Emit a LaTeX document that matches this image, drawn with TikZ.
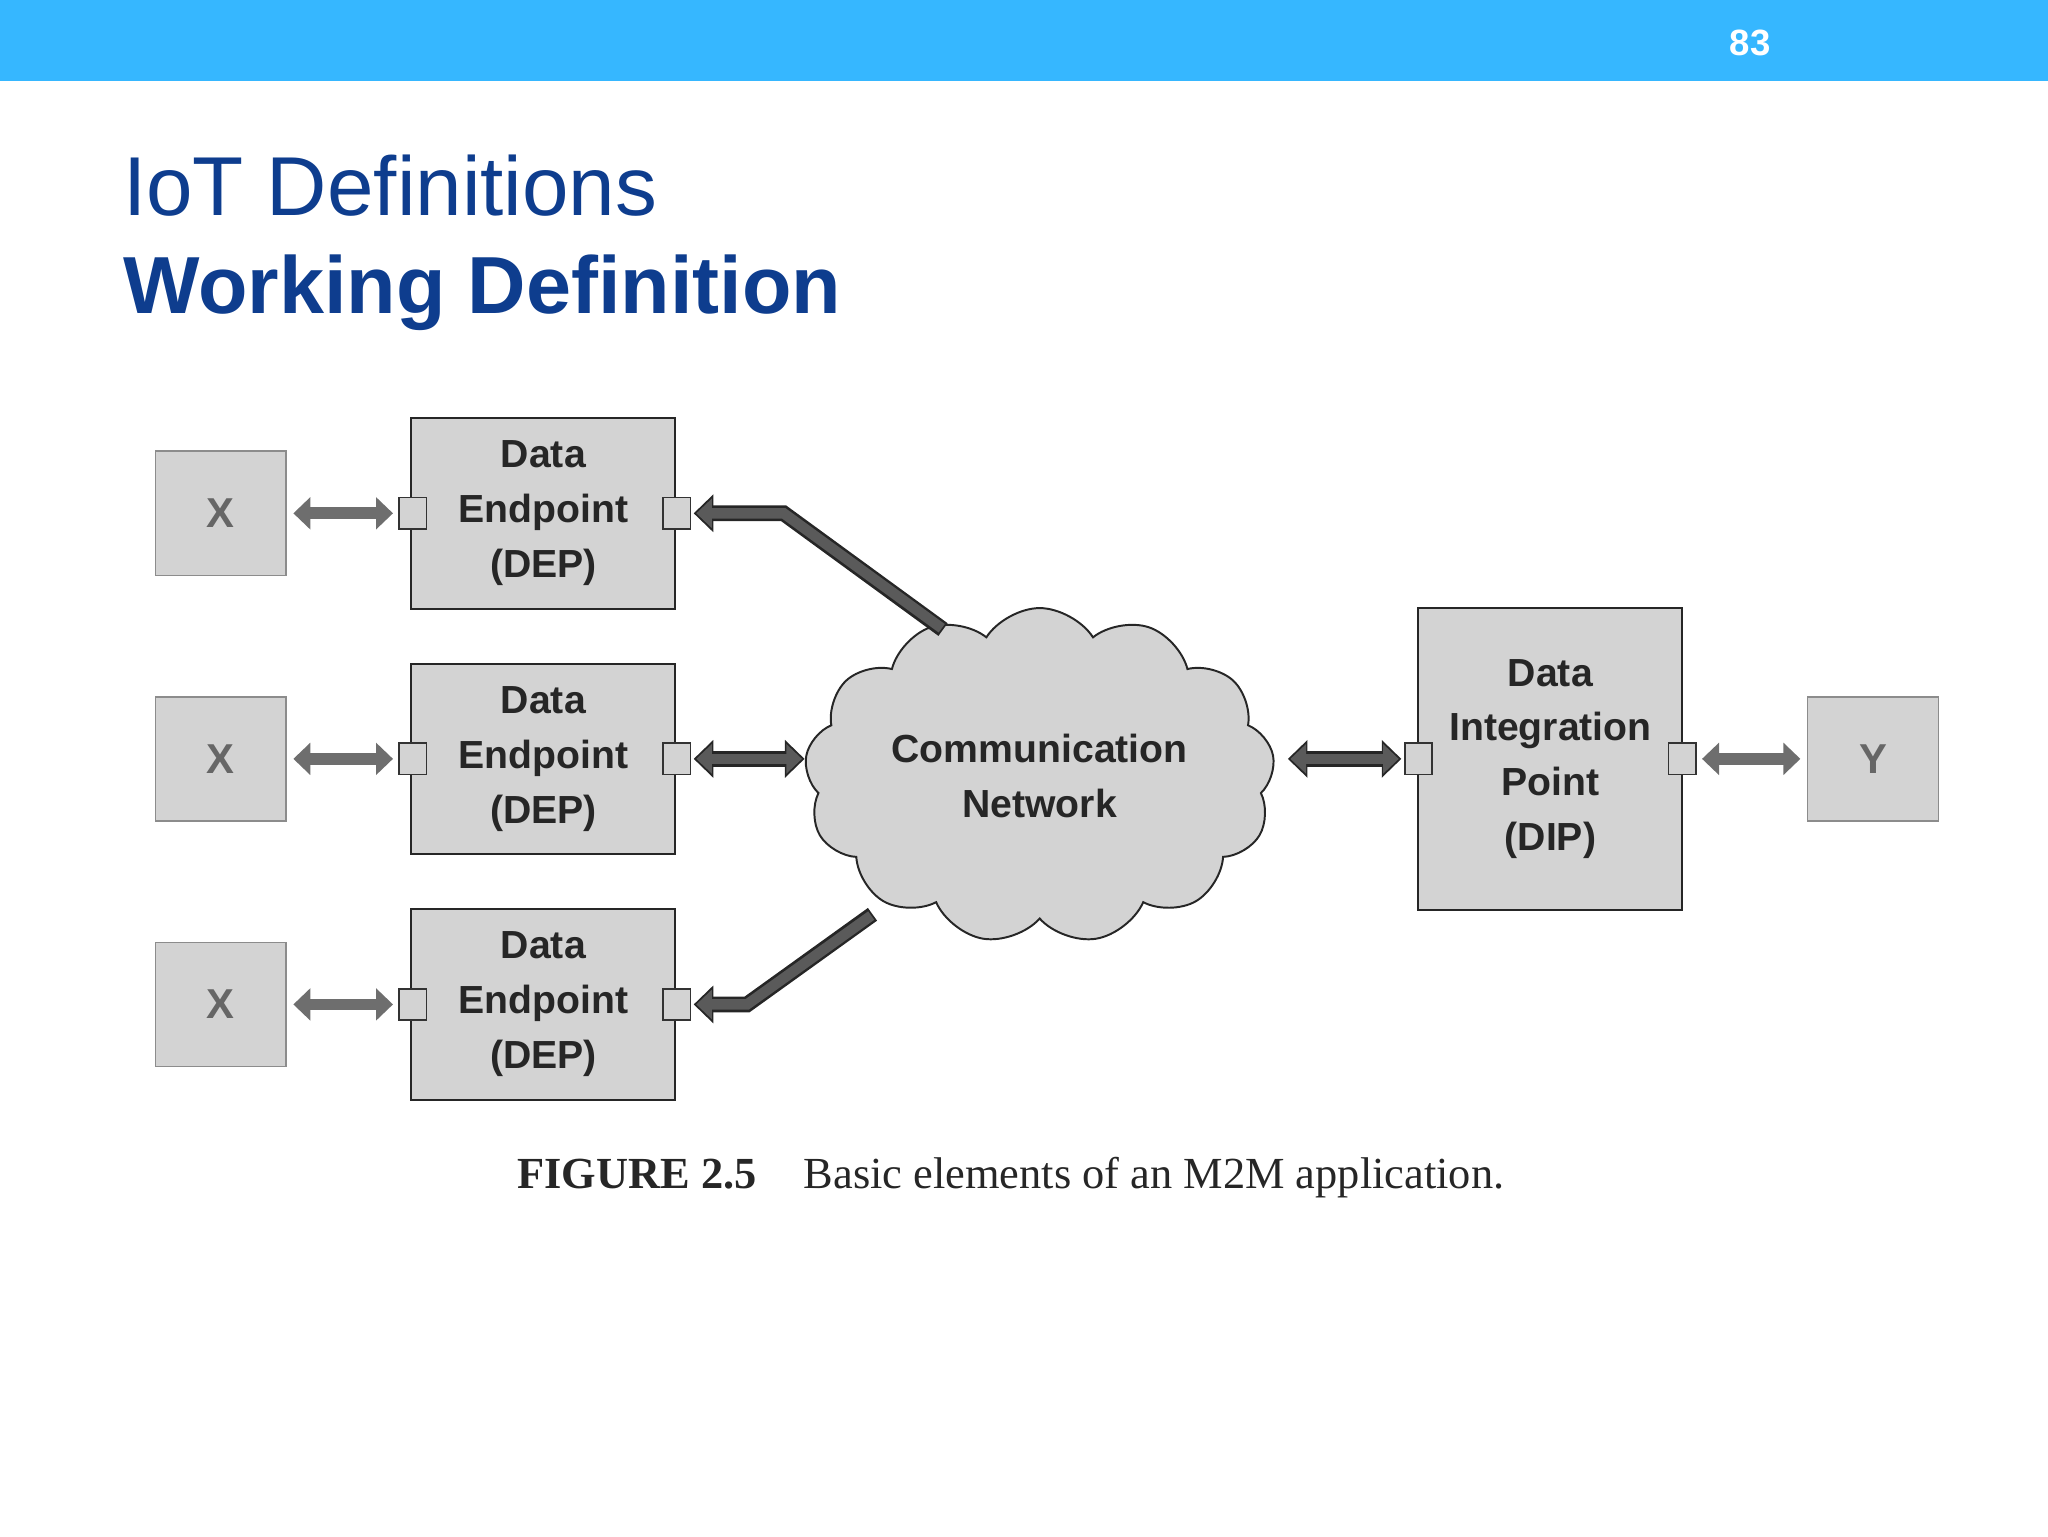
\documentclass[tikz,border=0pt]{standalone}
\usepackage{fontspec}
\setmainfont{Liberation Serif}
\newfontfamily\sans{Liberation Sans}
\usetikzlibrary{shapes.symbols,arrows.meta}
\definecolor{bar}{HTML}{36B7FF}
\definecolor{ttl}{HTML}{0E3D8E}
\definecolor{boxf}{HTML}{D3D3D3}
\definecolor{arr}{HTML}{6E6E6E}
\definecolor{darr}{HTML}{5A5A5A}
\begin{document}
\begin{tikzpicture}[x=1pt,y=-1pt,
  box/.style={draw=black!85,line width=1.5pt,fill=boxf,inner sep=0pt,align=center,
    font=\sans\bfseries\fontsize{30}{42}\selectfont,text=black!85},
  xb/.style={draw=black!45,line width=1.2pt,fill=boxf,inner sep=0pt,minimum width=100pt,minimum height=95pt,
    font=\sans\bfseries\fontsize{32}{36}\selectfont,text=black!60},
  port/.style={draw=black!80,line width=1.2pt,fill=boxf,minimum width=21pt,minimum height=24pt,inner sep=0pt},
  ga/.style={line width=9pt,arr,{Triangle[length=13pt,width=24pt]}-{Triangle[length=13pt,width=24pt]}},
  da/.style={line width=12pt,black!85},
  di/.style={line width=8pt,darr}]
\useasboundingbox (0,0) rectangle (1568,1176);
\fill[bar] (0,0) rectangle (1568,62);
\node[text=white,font=\sans\bfseries\fontsize{28}{30}\selectfont] (pg) at (1340,33) {83};
\node[anchor=base west,text=ttl,inner sep=0pt,font=\sans\fontsize{64}{70}\selectfont] (t1) at (94,165) {IoT Definitions};
\node[anchor=base west,text=ttl,inner sep=0pt,font=\sans\bfseries\fontsize{62}{70}\selectfont] (t2) at (94,240) {Working Definition};

\foreach \i/\y in {1/393,2/581,3/769}{
  \node[xb] (x\i) at (169,\y) {X};
  \node[box,minimum width=202pt,minimum height=146pt] (d\i) at (416,\y) {Data\\Endpoint\\(DEP)};
  \node[port] (pl\i) at (316,\y) {};
  \node[port] (pr\i) at (518,\y) {};
  \draw[ga] ([xshift=5pt]x\i.east) -- ([xshift=-4pt]pl\i.west);
}
\node[cloud,cloud puffs=13,cloud puff arc=115,aspect=1.5,draw=black!85,line width=1.5pt,fill=boxf,
  minimum width=360pt,minimum height=240pt,align=center,
  font=\sans\bfseries\fontsize{30}{42}\selectfont,text=black!85] (cn) at (796,594) {Communication\\Network};
\node[box,minimum width=202pt,minimum height=231pt] (dip) at (1187,581) {Data\\Integration\\Point\\(DIP)};
\node[port] (ql) at (1086,581) {};
\node[port] (qr) at (1288,581) {};
\node[xb] (y) at (1434,581) {Y};
\draw[ga] ([xshift=4pt]qr.east) -- ([xshift=-5pt]y.west);

% dark arrows
\coordinate (b1) at (600,393); \coordinate (e1) at (722,482);
\coordinate (b3) at (572,769); \coordinate (e3) at (668,700);
\draw[da,line join=miter,{Triangle[length=15pt,width=28pt]}-] ([xshift=2pt]pr1.east) -- (b1) -- (e1);
\draw[di,line join=miter,{Triangle[length=12pt,width=22pt]}-,shorten <=2pt] ([xshift=2pt]pr1.east) -- (b1) -- ([shift={(-1,-1)}]e1);
\draw[da,line join=miter,{Triangle[length=15pt,width=28pt]}-] ([xshift=2pt]pr3.east) -- (b3) -- (e3);
\draw[di,line join=miter,{Triangle[length=12pt,width=22pt]}-,shorten <=2pt] ([xshift=2pt]pr3.east) -- (b3) -- ([shift={(-1,1)}]e3);
\draw[da,{Triangle[length=15pt,width=28pt]}-{Triangle[length=15pt,width=28pt]}] ([xshift=2pt]pr2.east) -- (616,581);
\draw[di,{Triangle[length=12pt,width=22pt]}-{Triangle[length=12pt,width=22pt]},shorten <=2pt,shorten >=2pt] ([xshift=2pt]pr2.east) -- (616,581);
\draw[da,{Triangle[length=15pt,width=28pt]}-{Triangle[length=15pt,width=28pt]}] (986,581) -- ([xshift=-2pt]ql.west);
\draw[di,{Triangle[length=12pt,width=22pt]}-{Triangle[length=12pt,width=22pt]},shorten <=2pt,shorten >=2pt] (986,581) -- ([xshift=-2pt]ql.west);

\node[anchor=base west,inner sep=0pt,font=\fontsize{34}{36}\selectfont,text=black!85] (cap) at (396,910)
  {\textbf{FIGURE 2.5}\hspace{36pt}Basic elements of an M2M application.};
\end{tikzpicture}
\end{document}
